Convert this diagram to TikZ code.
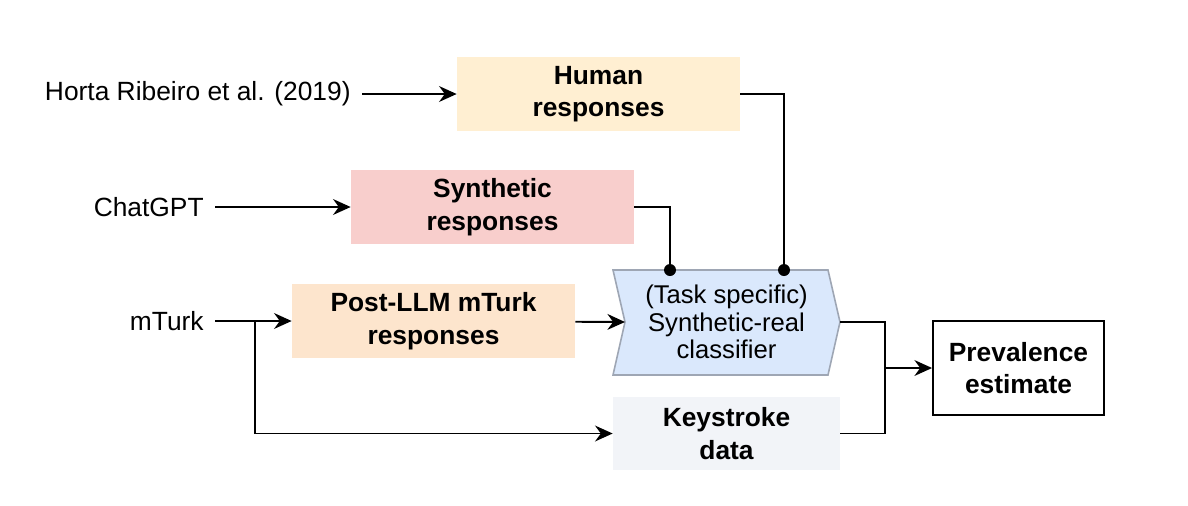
\documentclass[tikz,border=0pt]{standalone}
\usepackage{fontspec}
\setmainfont{Liberation Sans}
\usepackage{tikz}
\usetikzlibrary{arrows.meta}

\definecolor{humanfill}{HTML}{FFEFD2}
\definecolor{synthfill}{HTML}{F8CECC}
\definecolor{postfill}{HTML}{FDE5CD}
\definecolor{clsfill}{HTML}{DAE8FC}
\definecolor{clsline}{HTML}{9EA6B4}
\definecolor{keyfill}{HTML}{F2F4F8}

\begin{document}
\begin{tikzpicture}[x=0.02cm, y=-0.02cm,
  every node/.style={font=\fontsize{15}{18}\selectfont},
  src/.style={anchor=east, inner xsep=0.22cm, inner ysep=0pt},
  databox/.style={align=center, font=\fontsize{15}{18.5}\selectfont\bfseries, minimum width=5.66cm, minimum height=1.48cm, inner sep=0pt},
  link/.style={line width=1.1pt},
  arr/.style={link, -{Stealth[length=10pt, width=9pt]}}]
\useasboundingbox (0,0) rectangle (1188,505);

% sources
\node[src] (horta) at (362,94) {Horta Ribeiro et al. (2019)};
\node[src] (chat) at (215,207) {ChatGPT};
\node[src] (mturk) at (215,321) {mTurk};

% data
\node[databox, fill=humanfill] (hum) at (598.5,94) {Human\\responses};
\node[databox, fill=synthfill] (syn) at (492.5,207) {Synthetic\\responses};
\node[databox, fill=postfill] (post) at (433.5,321) {Post-LLM mTurk\\responses};
\node[databox, fill=keyfill, minimum width=4.54cm, minimum height=1.46cm] (key) at (726.5,433.5) {Keystroke\\data};

% classifier
\filldraw[fill=clsfill, draw=clsline, line width=0.9pt] (613,270) -- (828,270) -- (840,322) -- (828,375) -- (613,375) -- (625,322) -- cycle;
\node[align=center, font=\fontsize{14.6}{15.8}\selectfont, minimum width=4.54cm, minimum height=2.1cm, inner sep=0pt] (clf) at (726.5,322) {(Task specific)\\Synthetic-real\\classifier};
\coordinate (notch) at (625,322);

\node[draw, line width=1.1pt, align=center, font=\fontsize{15}{18.5}\selectfont\bfseries, minimum width=3.42cm, minimum height=1.88cm, inner sep=0pt] (prev) at (1018.5,368) {Prevalence\\estimate};

% connectors
\draw[arr] (horta) -- (hum);
\draw[arr] (chat) -- (syn);
\draw[arr] (mturk) -- (post);
\draw[arr] (post) -- (notch);
\coordinate (split) at (255,321);
\draw[arr] (split) |- (key.west);

\coordinate (dotS) at (670,270);
\coordinate (dotH) at (784,270);
\draw[link] (syn.east) -| (dotS);
\draw[link] (hum.east) -| (dotH);
\fill (dotS) circle (0.12cm);
\fill (dotH) circle (0.12cm);

\coordinate (join) at (885,368);
\draw[link] (clf.east) -| (join);
\draw[link] (key.east) -| (join);
\draw[arr] (join) -- (prev.west);
\end{tikzpicture}
\end{document}
